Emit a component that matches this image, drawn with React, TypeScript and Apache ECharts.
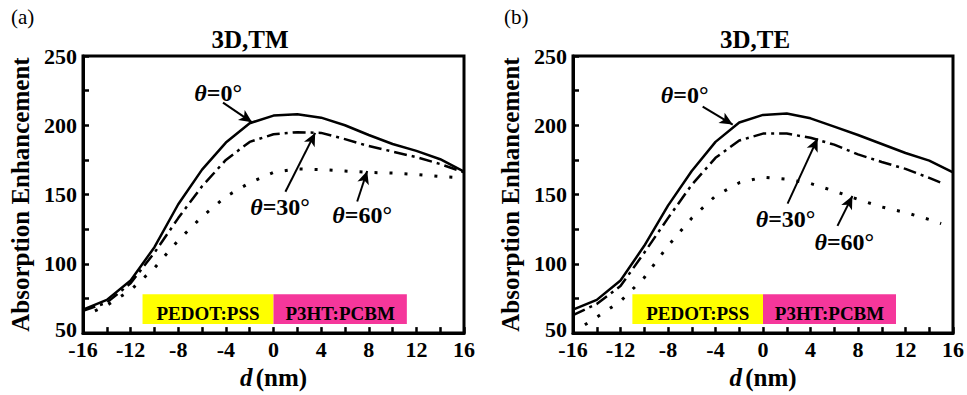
import React, { useEffect, useRef } from "react";
import * as echarts from "echarts";

const FONT = '"Liberation Serif", "Times New Roman", serif';

// x positions (nm)
const dFull = [-16, -14, -12, -10, -8, -6, -4, -2, 0, 2, 4, 6, 8, 10, 12, 14, 16];
const dFrom15 = [-15, -14, -12, -10, -8, -6, -4, -2, 0, 2, 4, 6, 8, 10, 12, 14, 16];
const dTo15 = [-16, -14, -12, -10, -8, -6, -4, -2, 0, 2, 4, 6, 8, 10, 12, 14, 15];
const dTE60 = [-15, -14, -12, -10, -8, -6, -4, -2, 0, 2, 4, 6, 8, 10, 12, 14, 15];

// TM (panel a)
const tm0 = [67, 74, 88, 112, 143, 168, 187.5, 201.5, 207, 208, 205.5, 200, 193, 186.5, 181.5, 175.5, 166.5];
const tm30 = [66, 72, 86, 108, 133, 156, 175, 188, 193.5, 195, 194.5, 190, 185, 181, 177, 172, 166];
const tm60 = [66, 70, 81, 97, 117, 134, 148.5, 158.5, 166, 168.5, 168, 167, 166, 165.5, 164.5, 163, 162];

// TE (panel b)
const te0 = [67, 74, 88, 113, 142, 167, 188, 202, 207.5, 208.5, 205, 199, 193, 186.5, 180, 174.5, 166];
const te30 = [63, 71, 84, 108, 133, 157, 176.5, 189, 194, 194, 191, 186, 179, 173.5, 168.5, 162, 158.5];
const te60 = [56, 61.5, 73, 90, 113, 133, 149, 158.5, 162.5, 161, 158, 152.5, 146.5, 141, 137, 132, 129];

const xTicks = { min: -16, max: 16, interval: 4 };
const yTicks = { min: 50, max: 250, interval: 50 };

const layerNames = ["PEDOT:PSS", "P3HT:PCBM"];
const layerRanges = [[-11, 0], [0, 11.2]];
const layerY = [56.5, 78];

// annotation positions (data coords)
const tmLabels = [
  { t: "0°", text: [-4.65, 223], from: [-4.24, 216.4], to: [-1.8, 202.1] },
  { t: "30°", text: [0.55, 141], from: [1.0, 152], to: [3.5, 194.5] },
  { t: "60°", text: [7.45, 135], from: [7.03, 145], to: [7.87, 167] },
];
const teLabels = [
  { t: "0°", text: [-6.6, 222], from: [-5.08, 213.4], to: [-2.55, 200.5] },
  { t: "30°", text: [1.9, 132], from: [2.07, 143.5], to: [4.6, 190.5] },
  { t: "60°", text: [6.85, 116], from: [6.27, 127.4], to: [7.53, 149] },
];

const zip = (xs: number[], ys: number[]) => xs.map((x, i) => [x, ys[i]]);

function App() {
  const ref = useRef<HTMLDivElement>(null);
  useEffect(() => {
    if (!ref.current) return;
    const chart = echarts.init(ref.current, null, { renderer: "svg" });

    const grids = [
      { left: 83, top: 56, width: 381, height: 280 },
      { left: 573, top: 56, width: 381, height: 279 },
    ].map((g) => ({ ...g, show: true, borderColor: "#000", borderWidth: 3, backgroundColor: "transparent" }));

    const tickStyle = { lineStyle: { color: "#000", width: 2.5 } };
    const mkX = (gi: number) => ({
      type: "value",
      gridIndex: gi,
      ...xTicks,
      name: "{i|d} {n|(nm)}",
      nameLocation: "middle",
      nameGap: 31,
      nameTextStyle: {
        rich: {
          i: { fontFamily: FONT, fontSize: 25, fontWeight: "bold", fontStyle: "italic", color: "#000" },
          n: { fontFamily: FONT, fontSize: 25, fontWeight: "bold", color: "#000" },
        },
      },
      axisLine: { show: true, onZero: false, lineStyle: { color: "#000", width: 3 } },
      axisTick: { show: true, inside: true, length: 6, ...tickStyle },
      minorTick: { show: true, splitNumber: 2, length: 6, ...tickStyle },
      splitLine: { show: false },
      axisLabel: { fontFamily: FONT, fontSize: 22, fontWeight: "bold", color: "#000", margin: 9, lineHeight: 14 },
    });
    const mkY = (gi: number) => ({
      type: "value",
      gridIndex: gi,
      ...yTicks,
      name: "Absorption Enhancement",
      nameLocation: "middle",
      nameGap: 50,
      nameRotate: 90,
      nameTextStyle: { fontFamily: FONT, fontSize: 25, fontWeight: "bold", color: "#000" },
      axisLine: { show: true, onZero: false, lineStyle: { color: "#000", width: 3 } },
      axisTick: { show: true, inside: true, length: 6, ...tickStyle },
      minorTick: { show: true, splitNumber: 2, length: 6, ...tickStyle },
      splitLine: { show: false },
      axisLabel: {
        fontFamily: FONT,
        fontSize: 22,
        fontWeight: "bold",
        color: "#000",
        margin: 6,
        lineHeight: 14,
        formatter: (v: number) => (v === yTicks.min ? "{m|" + v + "}" : String(v)),
        rich: {
          m: { fontFamily: FONT, fontSize: 22, fontWeight: "bold", color: "#000", lineHeight: 14, padding: [0, 0, 8, 0] },
        },
      },
    });

    const annot = (labels: typeof tmLabels) => ({
      markLine: {
        silent: true,
        symbol: ["none", "arrow"],
        symbolSize: [9, 13],
        label: { show: false },
        lineStyle: { color: "#000", width: 2, type: "solid" },
        data: labels.map((l) => [{ coord: l.from }, { coord: l.to }]),
      },
      markPoint: {
        silent: true,
        symbol: "circle",
        symbolSize: 0,
        itemStyle: { color: "transparent" },
        label: {
          show: true,
          position: "inside",
          rich: {
            i: { fontFamily: FONT, fontSize: 24, lineHeight: 20, fontWeight: "bold", fontStyle: "italic", color: "#000" },
            n: { fontFamily: FONT, fontSize: 24, lineHeight: 20, fontWeight: "bold", color: "#000" },
          },
        },
        data: labels.map((l) => ({
          coord: l.text,
          label: { formatter: "{i|θ}{n|=" + l.t + "}" },
        })),
      },
    });

    const boxes = {
      markArea: {
        silent: true,
        label: {
          show: true,
          position: "inside",
          fontFamily: FONT,
          fontSize: 19,
          fontWeight: "bold",
          color: "#000",
          offset: [0, 4],
        },
        data: layerNames.map((n, i) => [
          {
            name: n,
            xAxis: layerRanges[i][0],
            yAxis: layerY[0],
            itemStyle: { color: i === 0 ? "#FFFF00" : "#F5379B" },
          },
          { xAxis: layerRanges[i][1], yAxis: layerY[1] },
        ]),
      },
    };

    const line = (gi: number, data: number[][], type: any, width: number, extra: any = {}) => ({
      type: "line",
      xAxisIndex: gi,
      yAxisIndex: gi,
      data,
      showSymbol: false,
      symbol: "none",
      smooth: false,
      lineStyle: { color: "#000", width, type, cap: "butt" },
      z: 3,
      ...extra,
    });

    const dashDot = [13, 5, 3, 5];
    const dots = [3, 12];

    chart.setOption({
      animation: false,
      backgroundColor: "#fff",
      grid: grids,
      xAxis: [mkX(0), mkX(1)],
      yAxis: [mkY(0), mkY(1)],
      series: [
        line(0, zip(dFull, tm0), "solid", 2.5, { ...annot(tmLabels), ...boxes }),
        line(0, zip(dFull, tm30), dashDot, 2.5),
        line(0, zip(dFrom15, tm60), dots, 3),
        line(1, zip(dFull, te0), "solid", 2.5, { ...annot(teLabels), ...boxes }),
        line(1, zip(dTo15, te30), dashDot, 2.5),
        line(1, zip(dTE60, te60), dots, 3),
      ],
      graphic: [
        { type: "text", x: 11, y: 17, style: { text: "(a)", font: '21px "Liberation Serif"', fill: "#000", verticalAlign: "middle" } },
        { type: "text", x: 504, y: 17, style: { text: "(b)", font: '21px "Liberation Serif"', fill: "#000", verticalAlign: "middle" } },
        { type: "text", x: 250, y: 39, style: { text: "3D,TM", font: 'bold 25px "Liberation Serif"', fill: "#000", align: "center", verticalAlign: "middle" } },
        { type: "text", x: 755, y: 39, style: { text: "3D,TE", font: 'bold 25px "Liberation Serif"', fill: "#000", align: "center", verticalAlign: "middle" } },
      ],
    });
    return () => chart.dispose();
  }, []);
  return (
    <div
      ref={ref}
      style={{ position: "absolute", left: 0, top: 0, width: 967, height: 395, background: "#fff" }}
    />
  );
}

export default App;
